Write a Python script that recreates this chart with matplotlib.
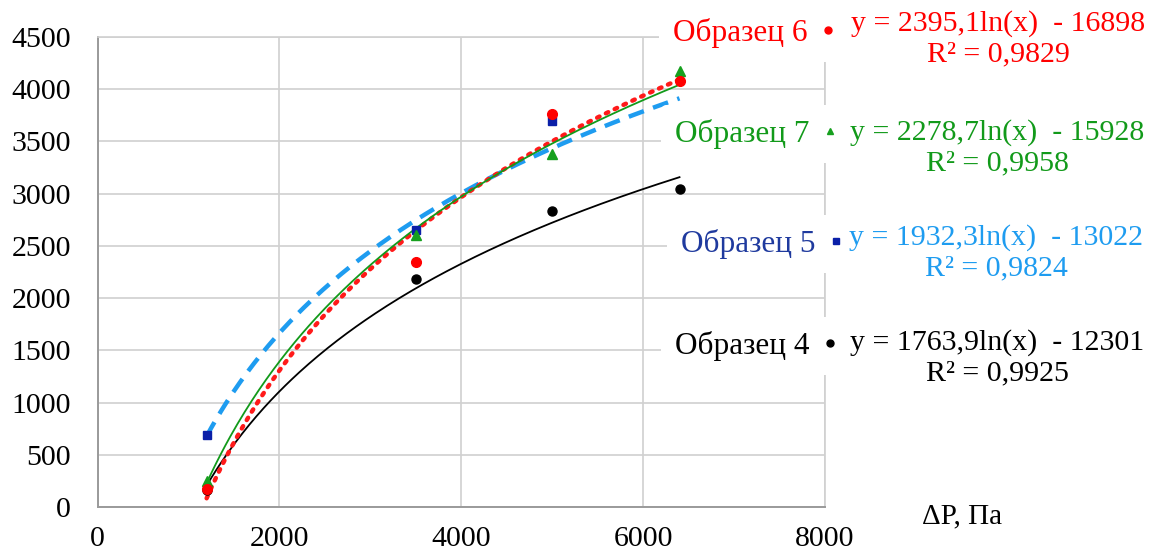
import numpy as np
import matplotlib.pyplot as plt
from matplotlib.lines import Line2D

# Pressure drop, Pa
dp = [1200, 3500, 5000, 6400]

# Measured values per sample
sample4 = [160, 2180, 2830, 3040]
sample5 = [690, 2650, 3700, 3740]
sample6 = [170, 2350, 3760, 4080]
sample7 = [250, 2600, 3380, 4170]

# Logarithmic trendline coefficients (y = a*ln(x) + b) and R^2 as printed
coef_a = {'4': 1763.9, '5': 1932.3, '6': 2395.1, '7': 2278.7}
coef_b = {'4': -12301, '5': -13022, '6': -16898, '7': -15928}
r2 = {'4': '0,9925', '5': '0,9824', '6': '0,9829', '7': '0,9958'}

W, H = 1150, 555
plt.rcParams['font.family'] = ['Liberation Serif', 'DejaVu Serif']

fig = plt.figure(figsize=(W / 100, H / 100), dpi=100)
ax = fig.add_axes([97.5 / W, 1 - 507 / H, (825 - 97.5) / W, (507 - 37) / H])

ax.set_xlim(0, 8000)
ax.set_ylim(0, 4500)
ax.set_xticks(np.arange(0, 8001, 2000))
ax.set_yticks(np.arange(0, 4501, 500))
ax.grid(True, color='#d0d0d0', linewidth=1.2, zorder=0)
ax.set_axisbelow(True)
for side in ['top', 'right']:
    ax.spines[side].set_color('#d0d0d0')
    ax.spines[side].set_linewidth(1.2)
for side in ['left', 'bottom']:
    ax.spines[side].set_color('#9a9a9a')
    ax.spines[side].set_linewidth(1.4)
ax.tick_params(length=0, labelsize=21.5, colors='black')
ax.tick_params(axis='y', pad=19)
ax.tick_params(axis='x', pad=14)

xs = np.linspace(min(dp), max(dp), 200)

# Sample styles
series = [
    ('4', sample4, 'black', 'o', 6.5, '-', 1.3, 'black', 'black'),
    ('5', sample5, '#0a1fa8', 's', 6, (0, (3.6, 2.2)), 3.2, '#1e9cf0', '#1e9cf0'),
    ('6', sample6, '#ff0000', 'o', 7, (0, (0.6, 1.6)), 3.2, '#ff1a1a', '#ff0000'),
    ('7', sample7, '#16a01e', '^', 7, '-', 1.3, '#129a1a', '#129a1a'),
]

for key, vals, mc, mk, ms, ls, lw, lc, tc in series:
    fit = coef_a[key] * np.log(xs) + coef_b[key]
    ax.plot(xs, fit, linestyle=ls, color=lc, linewidth=lw, zorder=3,
            dash_capstyle='round' if key == '6' else 'butt')
for key, vals, mc, mk, ms, ls, lw, lc, tc in [series[1], series[0], series[3], series[2]]:
    ax.plot(dp, vals, linestyle='none', marker=mk, color=mc, markersize=ms, zorder=4)

# Legend-like labels with equations
label_pos = {'6': (850, 33), '7': (852, 134), '5': (858, 244), '4': (852, 346)}
eq_pos = {'6': (998, 39), '7': (997, 148), '5': (996, 253), '4': (997, 358)}
marker_color = {'4': 'black', '5': '#0a1fa8', '6': '#ff0000', '7': '#16a01e'}
label_color = {'4': 'black', '5': '#1f3a9e', '6': '#ff0000', '7': '#129a1a'}

for key, vals, mc, mk, ms, ls, lw, lc, tc in series:
    handle = Line2D([], [], linestyle='none', marker=mk, color=marker_color[key],
                    markersize=5 if mk != 's' else 4.5)
    lx, ly = label_pos[key]
    leg = ax.legend(handles=[handle], labels=[f'Образец {key}'], markerfirst=False,
                    loc='center right', bbox_to_anchor=(lx / W, 1 - ly / H),
                    bbox_transform=fig.transFigure, prop={'size': 22.5},
                    labelcolor=label_color[key], frameon=True, facecolor='white',
                    edgecolor='none', framealpha=1, handlelength=0.5,
                    handletextpad=0.4, borderpad=0.45, borderaxespad=0)
    leg.set_zorder(6)
    ax.add_artist(leg)

    ex, ey = eq_pos[key]
    a = f"{coef_a[key]:.1f}".replace('.', ',')
    b = f"{-coef_b[key]}"
    fig.text(ex / W, 1 - ey / H, f"y = {a}ln(x)  - {b}\nR² = {r2[key]}",
             ha='center', va='center', multialignment='center', fontsize=21.5,
             color=tc, linespacing=1.2, zorder=7,
             bbox=dict(facecolor='white', edgecolor='none', pad=1))

fig.text(962 / W, 1 - 516 / H, 'ΔP, Па', ha='center', va='center', fontsize=21)

fig.savefig('out.png', dpi=100, facecolor='white')
